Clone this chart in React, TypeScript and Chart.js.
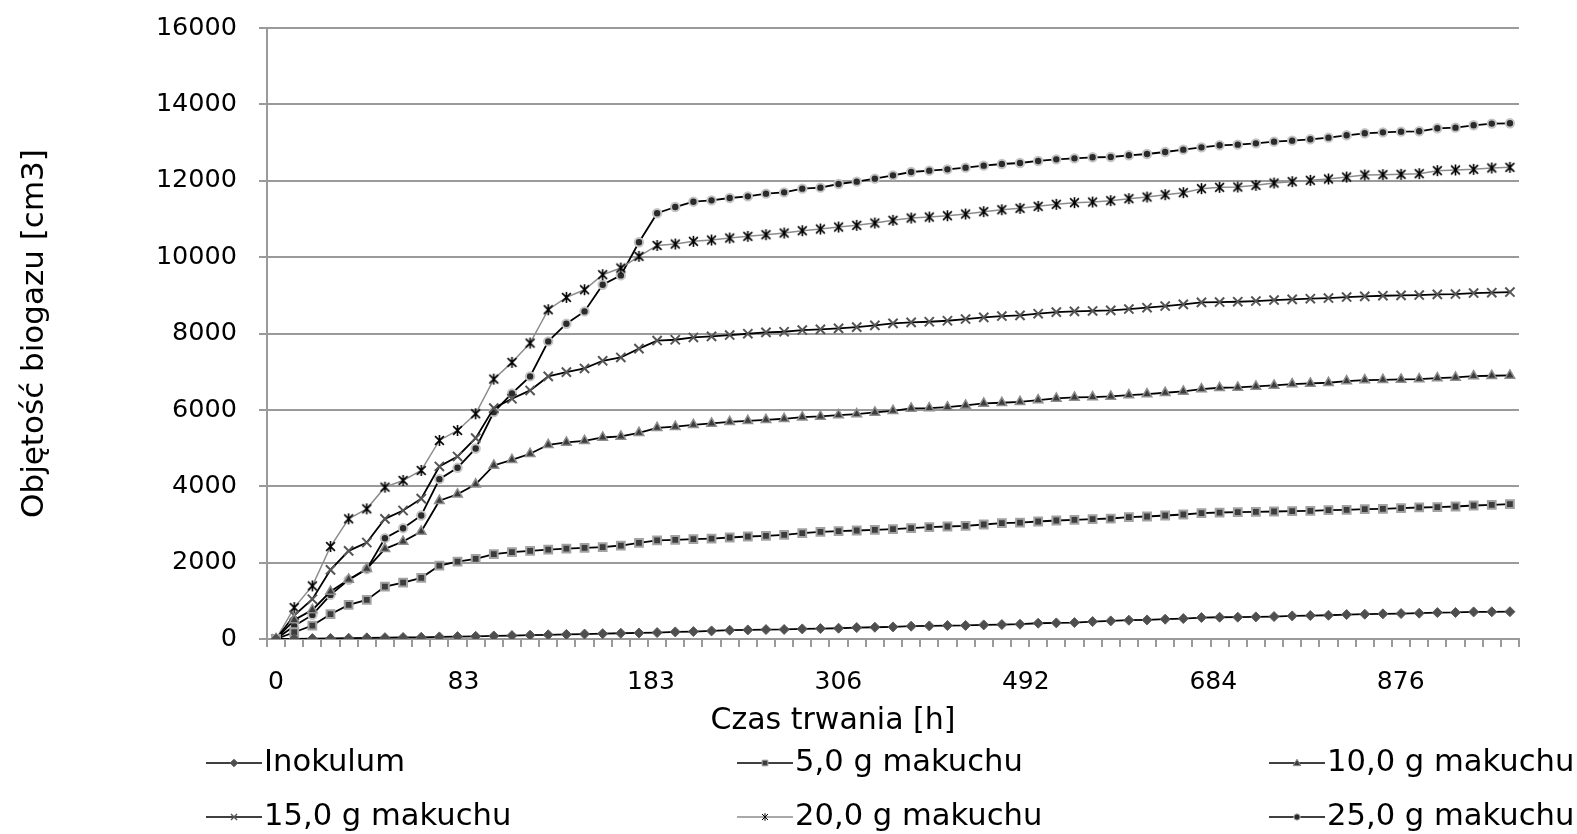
import React, { useEffect, useRef } from 'react';
import { Chart, registerables } from 'chart.js';

Chart.register(...registerables);

// ---- data ----
const xTickLabels = ['0', '83', '183', '306', '492', '684', '876'];
// spacing of the printed time labels, measured in measurement-point units
const labelSpacing = 10.33;

const inokulum = [0, 5, 10, 15, 20, 30, 35, 40, 45, 55, 63, 70, 80, 90, 100, 110, 120, 130, 140, 150, 158, 168, 186, 195, 212, 230, 238, 247, 250, 265, 273, 282, 299, 308, 317, 335, 343, 352, 355, 369, 378, 387, 413, 422, 430, 457, 474, 492, 500, 518, 535, 561, 570, 572, 579, 587, 605, 614, 622, 640, 649, 658, 666, 675, 692, 695, 710, 712, 715];

const g5 = [0, 177, 352, 649, 893, 1024, 1374, 1478, 1601, 1924, 2029, 2099, 2221, 2273, 2308, 2343, 2369, 2387, 2404, 2448, 2518, 2585, 2596, 2614, 2631, 2658, 2684, 2701, 2727, 2771, 2806, 2824, 2841, 2858, 2876, 2902, 2928, 2946, 2963, 2998, 3033, 3050, 3077, 3103, 3120, 3138, 3155, 3190, 3208, 3234, 3260, 3295, 3312, 3321, 3330, 3339, 3348, 3356, 3374, 3382, 3400, 3409, 3426, 3444, 3452, 3470, 3496, 3513, 3531];

const g10 = [0, 500, 762, 1243, 1560, 1840, 2361, 2553, 2815, 3620, 3790, 4050, 4544, 4692, 4850, 5085, 5147, 5190, 5277, 5304, 5400, 5530, 5560, 5609, 5644, 5688, 5714, 5740, 5767, 5810, 5828, 5863, 5889, 5932, 5976, 6037, 6046, 6072, 6116, 6168, 6186, 6212, 6256, 6299, 6325, 6334, 6352, 6387, 6413, 6448, 6483, 6544, 6579, 6587, 6614, 6640, 6675, 6692, 6710, 6754, 6780, 6788, 6797, 6806, 6832, 6849, 6885, 6893, 6902];

const g15 = [0, 620, 1042, 1810, 2308, 2527, 3147, 3365, 3675, 4518, 4780, 5260, 6046, 6291, 6509, 6876, 6989, 7085, 7286, 7373, 7605, 7815, 7836, 7897, 7924, 7959, 7994, 8029, 8046, 8090, 8107, 8133, 8168, 8212, 8264, 8290, 8308, 8334, 8378, 8421, 8457, 8474, 8518, 8561, 8579, 8590, 8605, 8640, 8675, 8719, 8762, 8814, 8823, 8832, 8850, 8876, 8893, 8911, 8928, 8954, 8972, 8989, 8998, 9007, 9024, 9033, 9059, 9068, 9085];

const g20 = [0, 823, 1391, 2422, 3147, 3409, 3976, 4151, 4413, 5199, 5461, 5898, 6806, 7243, 7749, 8622, 8945, 9146, 9539, 9714, 10020, 10305, 10343, 10413, 10448, 10500, 10544, 10587, 10631, 10692, 10736, 10788, 10832, 10893, 10963, 11024, 11050, 11085, 11129, 11190, 11242, 11277, 11330, 11382, 11426, 11443, 11478, 11531, 11574, 11635, 11688, 11793, 11827, 11836, 11880, 11941, 11976, 12011, 12046, 12098, 12151, 12159, 12168, 12186, 12264, 12282, 12299, 12334, 12351];

const g25 = [0, 343, 631, 1155, 1548, 1828, 2640, 2902, 3234, 4186, 4483, 4989, 5941, 6430, 6876, 7793, 8256, 8579, 9277, 9522, 10390, 11150, 11312, 11452, 11487, 11548, 11592, 11662, 11696, 11793, 11819, 11915, 11976, 12055, 12142, 12229, 12264, 12299, 12343, 12395, 12439, 12465, 12518, 12561, 12587, 12614, 12622, 12666, 12701, 12753, 12814, 12875, 12928, 12945, 12980, 13024, 13050, 13085, 13129, 13190, 13242, 13268, 13286, 13295, 13373, 13391, 13452, 13496, 13504];

const seriesNames = ['Inokulum', '5,0 g makuchu', '10,0 g makuchu', '15,0 g makuchu', '20,0 g makuchu', '25,0 g makuchu'];

const FONT = '"DejaVu Sans", "Liberation Sans", sans-serif';
const GRID = '#9a9a9a';

function makeAsterisk(size: number, lw: number, color: string) {
  const c = document.createElement('canvas');
  c.width = size;
  c.height = size;
  const g = c.getContext('2d')!;
  g.strokeStyle = color;
  g.lineWidth = lw;
  const m = size / 2;
  const r = size / 2 - 1;
  const d = r * 0.8;
  g.beginPath();
  g.moveTo(m - d, m - d); g.lineTo(m + d, m + d);
  g.moveTo(m + d, m - d); g.lineTo(m - d, m + d);
  g.moveTo(m, m - r); g.lineTo(m, m + r);
  g.stroke();
  return c;
}

function drawLegendMarker(ctx: CanvasRenderingContext2D, ds: any, x: number, y: number) {
  const r = 3.8;
  ctx.save();
  ctx.fillStyle = ds.pointBackgroundColor;
  ctx.strokeStyle = ds.pointBorderColor;
  ctx.lineWidth = 1;
  const style = ds.legendStyle;
  ctx.beginPath();
  if (style === 'rectRot') {
    ctx.moveTo(x, y - r); ctx.lineTo(x + r, y); ctx.lineTo(x, y + r); ctx.lineTo(x - r, y); ctx.closePath();
    ctx.fill(); ctx.stroke();
  } else if (style === 'rect') {
    ctx.rect(x - r * 0.75, y - r * 0.75, r * 1.5, r * 1.5); ctx.fill(); ctx.stroke();
  } else if (style === 'triangle') {
    ctx.moveTo(x, y - r); ctx.lineTo(x + r, y + r * 0.7); ctx.lineTo(x - r, y + r * 0.7); ctx.closePath();
    ctx.fill(); ctx.stroke();
  } else if (style === 'crossRot') {
    ctx.lineWidth = 1.4;
    ctx.moveTo(x - r * 0.8, y - r * 0.8); ctx.lineTo(x + r * 0.8, y + r * 0.8);
    ctx.moveTo(x + r * 0.8, y - r * 0.8); ctx.lineTo(x - r * 0.8, y + r * 0.8);
    ctx.stroke();
  } else if (style === 'asterisk') {
    ctx.strokeStyle = '#000';
    ctx.moveTo(x - r * 0.8, y - r * 0.8); ctx.lineTo(x + r * 0.8, y + r * 0.8);
    ctx.moveTo(x + r * 0.8, y - r * 0.8); ctx.lineTo(x - r * 0.8, y + r * 0.8);
    ctx.moveTo(x, y - r); ctx.lineTo(x, y + r);
    ctx.stroke();
  } else {
    ctx.arc(x, y, r * 0.85, 0, Math.PI * 2); ctx.fill(); ctx.stroke();
  }
  ctx.restore();
}

const legendCols = [206, 737, 1269];
const legendRows = [763, 817];

const overlayPlugin = {
  id: 'overlay',
  afterDraw(chart: any) {
    const ctx: CanvasRenderingContext2D = chart.ctx;
    ctx.save();
    // x axis title
    ctx.font = `30px ${FONT}`;
    ctx.fillStyle = '#000';
    ctx.textAlign = 'center';
    ctx.textBaseline = 'middle';
    ctx.fillText('Czas trwania [h]', 833, 721);
    // legend
    ctx.font = `30.6px ${FONT}`;
    ctx.textAlign = 'left';
    chart.data.datasets.forEach((ds: any, i: number) => {
      const x = legendCols[i % 3];
      const y = legendRows[Math.floor(i / 3)];
      ctx.strokeStyle = ds.borderColor;
      ctx.lineWidth = 1.5;
      ctx.beginPath();
      ctx.moveTo(x, y);
      ctx.lineTo(x + 56, y);
      ctx.stroke();
      drawLegendMarker(ctx, ds, x + 28, y);
      ctx.fillStyle = '#000';
      ctx.fillText(ds.label, x + 58, y);
    });
    ctx.restore();
  },
};

export default function App() {
  const ref = useRef<HTMLCanvasElement | null>(null);

  useEffect(() => {
    if (!ref.current) return;
    const asterisk = makeAsterisk(13, 1.6, '#000');
    const labels = inokulum.map((_, i) => String(i));
    const base = { borderWidth: 1.8, tension: 0, pointHoverRadius: 6 };
    const chart = new Chart(ref.current, {
      type: 'line',
      data: {
        labels,
        datasets: [
          { ...base, label: seriesNames[0], data: inokulum, borderColor: '#000', pointStyle: 'rectRot', legendStyle: 'rectRot', pointRadius: 5, pointBackgroundColor: '#4e4e4e', pointBorderColor: '#5a5a5a', pointBorderWidth: 1 } as any,
          { ...base, label: seriesNames[1], data: g5, borderColor: '#000', pointStyle: 'rect', legendStyle: 'rect', pointRadius: 5.5, pointBackgroundColor: '#3c3c3c', pointBorderColor: '#a2a2a2', pointBorderWidth: 2 } as any,
          { ...base, label: seriesNames[2], data: g10, borderColor: '#000', pointStyle: 'triangle', legendStyle: 'triangle', pointRadius: 5.5, pointBackgroundColor: '#3c3c3c', pointBorderColor: '#8e8e8e', pointBorderWidth: 1.5 } as any,
          { ...base, label: seriesNames[3], data: g15, borderColor: '#000', pointStyle: 'crossRot', legendStyle: 'crossRot', pointRadius: 6.5, pointBackgroundColor: '#555', pointBorderColor: '#555', pointBorderWidth: 2 } as any,
          { ...base, label: seriesNames[4], data: g20, borderColor: '#8c8c8c', borderWidth: 1.5, pointStyle: asterisk, legendStyle: 'asterisk', pointRadius: 5, pointBackgroundColor: '#000', pointBorderColor: '#000', pointBorderWidth: 1 } as any,
          { ...base, label: seriesNames[5], data: g25, borderColor: '#000', pointStyle: 'circle', legendStyle: 'circle', pointRadius: 4.2, pointBackgroundColor: '#2a2a2a', pointBorderColor: '#c4c4c4', pointBorderWidth: 2 } as any,
        ],
      },
      options: {
        responsive: false,
        animation: false,
        layout: { padding: { left: 12, right: 58, top: 28, bottom: 94 } },
        plugins: { legend: { display: false }, tooltip: { enabled: false }, title: { display: false } },
        scales: {
          x: {
            type: 'category',
            position: 'bottom',
            weight: 0,
            offset: true,
            afterFit: (s: any) => { s.height = 8; s.paddingLeft = 0; s.paddingRight = 0; },
            grid: { offset: true, drawOnChartArea: false, drawTicks: true, tickLength: 8, color: GRID, lineWidth: 2 },
            border: { display: true, color: GRID, width: 2 },
            ticks: { display: false, autoSkip: false },
          },
          xLabels: {
            type: 'linear',
            position: 'bottom',
            weight: 1,
            min: -0.5,
            max: inokulum.length - 0.5,
            afterFit: (s: any) => { s.height = 93; s.paddingLeft = 0; s.paddingRight = 0; },
            afterBuildTicks: (s: any) => { s.ticks = xTickLabels.map((_, k) => ({ value: k * labelSpacing })); },
            grid: { display: false, drawTicks: false, drawOnChartArea: false },
            border: { display: false },
            ticks: {
              autoSkip: false,
              maxRotation: 0,
              minRotation: 0,
              padding: 20,
              color: '#000',
              font: { family: FONT, size: 25 },
              callback: (_v: any, i: number) => xTickLabels[i] ?? '',
            },
          },
          y: {
            min: 0,
            max: 16000,
            afterFit: (s: any) => { s.width = 255; s.paddingTop = 0; s.paddingBottom = 0; },
            grid: { color: GRID, lineWidth: 2, drawTicks: true, tickLength: 8 },
            border: { display: true, color: GRID, width: 2 },
            ticks: { stepSize: 2000, padding: 22, color: '#000', font: { family: FONT, size: 25.5 }, callback: (v: any) => String(v) },
            title: { display: true, text: 'Objętość biogazu [cm3]', color: '#000', font: { family: FONT, size: 31 }, padding: { top: 4, bottom: 0 } },
          },
        },
      },
      plugins: [overlayPlugin],
    } as any);
    return () => chart.destroy();
  }, []);

  return (
    <div style={{ position: 'fixed', left: 0, top: 0, width: 1577, height: 834, background: '#fff' }}>
      <canvas ref={ref} width={1577} height={834} />
    </div>
  );
}
